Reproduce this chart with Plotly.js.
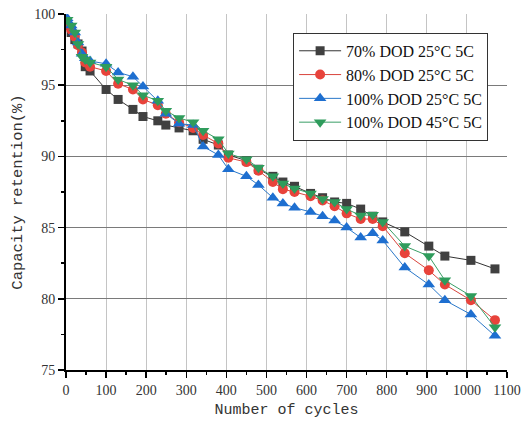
<!DOCTYPE html>
<html><head><meta charset="utf-8">
<script src="https://cdn.plot.ly/plotly-3.0.1.min.js"></script>
<style>html,body{margin:0;padding:0;background:#fff}#chart{width:523px;height:425px}</style>
</head><body><div id="chart"></div>
<script>
const cycles = [3,13,22,30,40,48,60,100,130,167,192,229,249,282,317,342,380,405,450,480,516,541,570,610,640,670,700,735,765,790,845,905,945,1010,1070];
const dod70_25 = [99.2,98.7,98.2,97.9,97.4,96.3,96.0,94.7,94.0,93.3,92.8,92.5,92.2,92.0,91.8,91.2,90.8,90.1,89.7,89.1,88.6,88.2,87.9,87.4,87.1,86.8,86.7,86.3,85.8,85.4,84.7,83.7,83.0,82.7,82.1];
const dod80_25 = [99.3,98.9,98.4,97.8,97.3,96.6,96.3,96.0,95.1,94.7,94.0,93.6,93.0,92.4,92.0,91.5,90.9,89.9,89.6,89.0,88.2,87.7,87.5,87.2,86.9,86.5,86.0,85.6,85.6,85.1,83.2,82.0,81.0,79.9,78.5];
const dod100_25 = [99.7,99.2,98.7,98.0,97.2,96.9,96.7,96.5,95.9,95.6,94.9,93.9,93.0,92.3,92.2,90.7,90.1,89.1,88.6,88.0,87.1,86.7,86.4,86.1,85.8,85.5,85.0,84.3,84.6,84.1,82.2,81.0,79.9,78.9,77.4];
const dod100_45 = [99.6,99.2,98.7,97.9,97.0,96.8,96.6,96.3,95.4,95.0,94.3,93.9,93.2,92.7,92.4,91.8,91.2,90.2,89.8,89.2,88.6,88.1,87.75,87.4,87.0,86.8,86.3,85.85,85.9,85.4,83.7,83.0,81.3,80.2,78.0];
const seriesNames = ["70% DOD 25°C 5C","80% DOD 25°C 5C","100% DOD 25°C 5C","100% DOD 45°C 5C"];
const xTickVals = [0,100,200,300,400,500,600,700,800,900,1000,1100];
const yTickVals = [75,80,85,90,95,100];

const styles = [
  {color:'#404040', line:'#333333', symbol:'square', size:9},
  {color:'#e8433b', line:'#d9443c', symbol:'circle', size:10},
  {color:'#1e6fd0', line:'#2a78c9', symbol:'triangle-up', size:11},
  {color:'#2f9c5c', line:'#3a9e66', symbol:'triangle-down', size:11}
];
const data = [dod70_25,dod80_25,dod100_25,dod100_45].map((ys,i)=>({
  x: cycles, y: ys, name: seriesNames[i], type:'scatter', mode:'lines+markers',
  line:{color:styles[i].line, width:1},
  marker:{color:styles[i].color, symbol:styles[i].symbol, size:styles[i].size}
}));

const tickFont = {family:'"Liberation Serif", "Times New Roman", serif', size:14, color:'#333'};
const layout = {
  width:523, height:425,
  margin:{l:66, r:16, t:14, b:55},
  paper_bgcolor:'#fff', plot_bgcolor:'#fff',
  showlegend:true,
  legend:{x:0.515, y:0.947, xanchor:'left', yanchor:'top', bgcolor:'#fff', bordercolor:'#333', borderwidth:1,
    font:{family:'"Liberation Serif", "Times New Roman", serif', size:16, color:'#111'}, itemwidth:42, tracegroupgap:0},
  xaxis:{range:[0,1100], tickvals:xTickVals, ticktext:xTickVals.map(String), ticks:'outside', ticklen:6, tickwidth:1.5, tickcolor:'#000',
    minor:{dtick:50, ticks:'outside', ticklen:3, tickcolor:'#000', showgrid:false},
    showline:true, linecolor:'#000', linewidth:2, showgrid:true, gridcolor:'#c4c4c4', gridwidth:1, zeroline:false,
    tickfont:tickFont,
    title:{text:'Number of cycles', font:{family:'"Liberation Mono", "Courier New", monospace', size:15, color:'#333'}, standoff:7}},
  yaxis:{range:[75,100], tickvals:yTickVals, ticktext:yTickVals.map(String), ticks:'outside', ticklen:6, tickwidth:1.5, tickcolor:'#000',
    minor:{dtick:2.5, ticks:'outside', ticklen:3, tickcolor:'#000', showgrid:false},
    showline:true, linecolor:'#000', linewidth:2, showgrid:true, gridcolor:'#7a7a7a', gridwidth:1, zeroline:false,
    tickfont:tickFont,
    title:{text:'Capacity retention(%)', font:{family:'"Liberation Mono", "Courier New", monospace', size:15.5, color:'#333'}, standoff:8}},
  xaxis2:{overlaying:'x', side:'top', range:[0,1100], tickvals:xTickVals, showticklabels:false, ticks:'inside', ticklen:5, tickwidth:1.5, tickcolor:'#000',
    minor:{dtick:50, ticks:'inside', ticklen:3, tickcolor:'#000'},
    showline:true, linecolor:'#000', linewidth:1.5, showgrid:false, zeroline:false},
  yaxis2:{overlaying:'y', side:'right', range:[75,100], tickvals:yTickVals, showticklabels:false, ticks:'inside', ticklen:5, tickwidth:1.5, tickcolor:'#000',
    minor:{dtick:2.5, ticks:'inside', ticklen:3, tickcolor:'#000'},
    showline:true, linecolor:'#000', linewidth:1.5, showgrid:false, zeroline:false}
};
Plotly.newPlot('chart', data, layout, {staticPlot:true});
</script></body></html>
